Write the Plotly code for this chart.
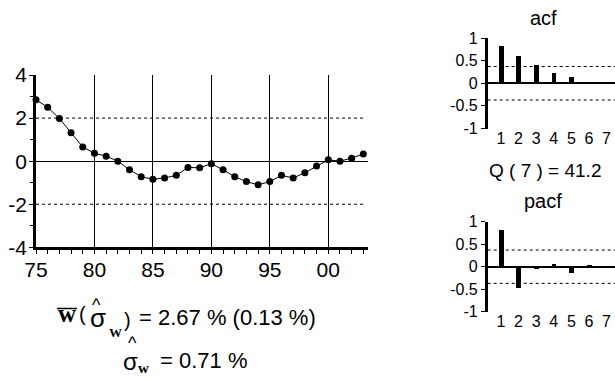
import plotly.graph_objects as go

W, H = 615, 379

# ---------------- data ----------------
years = list(range(1975, 2004))
values = [2.85, 2.5, 1.98, 1.32, 0.66, 0.37, 0.23, 0.0, -0.4, -0.72,
          -0.84, -0.78, -0.66, -0.29, -0.31, -0.12, -0.4, -0.72, -0.95, -1.1,
          -0.95, -0.66, -0.78, -0.54, -0.23, 0.06, 0.0, 0.14, 0.33]
main_tickvals = [1975, 1980, 1985, 1990, 1995, 2000]
main_ticktext = ["75", "80", "85", "90", "95", "00"]
main_ytickvals = [-4, -2, 0, 2, 4]
main_yticktext = ["-4", "-2", "0", "2", "4"]
band_main = 2.0

lags = [1, 2, 3, 4, 5, 6, 7]
acf = [0.83, 0.61, 0.40, 0.22, 0.14, 0.03, 0.005]
pacf = [0.83, -0.47, -0.05, 0.07, -0.13, 0.05, 0.005]
band_cf = 0.37
cf_tickvals = [-1, -0.5, 0, 0.5, 1]
cf_ticktext = ["-1", "-0.5", "0", "0.5", "1"]

q_text = "Q ( 7 ) = 41.2"
mean_text = "= 2.67 % (0.13 %)"
sd_text = "= 0.71 %"

FONT = "Arial, 'Liberation Sans', sans-serif"
SERIF = "'Liberation Serif', 'Times New Roman', serif"

def px_x(p):
    return p / W

def px_y(p):
    return (H - p) / H

fig = go.Figure()

fig.add_trace(go.Scatter(
    x=years, y=values, mode="lines+markers",
    line=dict(color="black", width=1),
    marker=dict(color="black", size=7),
    cliponaxis=False, xaxis="x", yaxis="y", showlegend=False))

fig.add_trace(go.Bar(
    x=lags, y=acf, width=0.28, marker=dict(color="black", line=dict(width=0)),
    xaxis="x2", yaxis="y2", showlegend=False))

fig.add_trace(go.Bar(
    x=lags, y=pacf, width=0.28, marker=dict(color="black", line=dict(width=0)),
    xaxis="x3", yaxis="y3", showlegend=False))

axis_common = dict(showline=True, linecolor="black", color="black",
                   tickcolor="black", ticks="outside", ticklen=4, automargin=False)

fig.update_layout(
    width=W, height=H,
    margin=dict(l=0, r=0, t=0, b=0, autoexpand=False),
    paper_bgcolor="white", plot_bgcolor="white",
    font=dict(family=FONT, color="black"),
    bargap=0,
    xaxis=dict(domain=[px_x(36), px_x(368)], range=[1975, 2003.4],
               tickmode="array", tickvals=main_tickvals, ticktext=main_ticktext,
               showgrid=True, gridcolor="black", gridwidth=1, zeroline=False,
               linewidth=2.5, tickfont=dict(size=21), ticklabelstandoff=-2,
               minor=dict(tickmode="array", tickvals=years, ticks="outside",
                          ticklen=4, tickcolor="black", showgrid=False),
               anchor="y", **axis_common),
    yaxis=dict(domain=[px_y(247.3), px_y(75)], range=[-4, 4],
               tickmode="array", tickvals=main_ytickvals, ticktext=main_yticktext,
               showgrid=False, zeroline=True, zerolinecolor="black", zerolinewidth=1,
               linewidth=2.5, tickfont=dict(size=21), ticklabelstandoff=-2,
               minor=dict(tickmode="array", tickvals=[-3, -1, 1, 3], ticks="outside",
                          ticklen=3, tickcolor="black", showgrid=False),
               anchor="x", **axis_common),
    xaxis2=dict(domain=[px_x(487.7), 1], range=[0.25, 7.48],
                tickmode="array", tickvals=lags, ticktext=[str(l) for l in lags],
                showline=False, showgrid=False, zeroline=False, ticks="",
                tickfont=dict(size=16), anchor="y2", ticklabelstandoff=-2,
                automargin=False),
    yaxis2=dict(domain=[px_y(128.5), px_y(38)], range=[-1, 1],
                tickmode="array", tickvals=cf_tickvals, ticktext=cf_ticktext,
                showgrid=False, zeroline=True, zerolinecolor="black", zerolinewidth=1.5,
                linewidth=2.5, tickfont=dict(size=16), ticklabelstandoff=0,
                anchor="x2", **axis_common),
    xaxis3=dict(domain=[px_x(487.7), 1], range=[0.25, 7.48],
                tickmode="array", tickvals=lags, ticktext=[str(l) for l in lags],
                showline=False, showgrid=False, zeroline=False, ticks="",
                tickfont=dict(size=16), anchor="y3", ticklabelstandoff=-2,
                automargin=False),
    yaxis3=dict(domain=[px_y(311.7), px_y(221.7)], range=[-1, 1],
                tickmode="array", tickvals=cf_tickvals, ticktext=cf_ticktext,
                showgrid=False, zeroline=True, zerolinecolor="black", zerolinewidth=1.5,
                linewidth=2.5, tickfont=dict(size=16), ticklabelstandoff=0,
                anchor="x3", **axis_common),
)

DASH = "3px,3px"
shapes = []
for s in (band_main, -band_main):
    shapes.append(dict(type="line", xref="x", yref="y", x0=years[0], x1=years[-1],
                       y0=s, y1=s, line=dict(color="black", width=1, dash=DASH),
                       layer="below"))
for ax in ("2", "3"):
    for s in (band_cf, -band_cf):
        shapes.append(dict(type="line", xref="x%s domain" % ax, yref="y%s" % ax,
                           x0=0, x1=1, y0=s, y1=s,
                           line=dict(color="black", width=1, dash=DASH),
                           layer="below"))
# overline on w
shapes.append(dict(type="line", xref="paper", yref="paper",
                   x0=px_x(57), x1=px_x(77), y0=px_y(308.5), y1=px_y(308.5),
                   line=dict(color="black", width=1.5)))

ann = []
def add(text, x, y, size, xanchor="center", family=FONT, bold=False):
    t = "<b>%s</b>" % text if bold else text
    ann.append(dict(text=t, x=px_x(x), y=px_y(y), xref="paper", yref="paper",
                    xanchor=xanchor, yanchor="middle", showarrow=False,
                    font=dict(size=size, family=family, color="black")))

add("acf", 543, 18, 20)
add("pacf", 543, 201, 20)
add(q_text, 545, 170, 19)

# line 1: w(σ_W) = 2.67 % (0.13 %)
add("w", 67.3, 313, 25, family=SERIF, bold=True)
add("(", 82.5, 314, 20)
add("σ", 97.5, 317.5, 26)
add("^", 96.7, 305, 18)
add("W", 115, 332, 13, family=SERIF, bold=True)
add(")", 127, 320, 20)
add(mean_text, 137, 317, 22, xanchor="left")

# line 2: σ_w = 0.71 %
add("^", 132, 342.5, 18)
add("σ", 130.5, 361, 24)
add("w", 143.5, 367.5, 15, family=SERIF, bold=True)
add(sd_text, 158, 360, 22, xanchor="left")

fig.update_layout(shapes=shapes, annotations=ann)

fig.write_html("out.html", config={"displayModeBar": False},
               post_script="document.body.style.margin='0';document.body.style.padding='0';")
